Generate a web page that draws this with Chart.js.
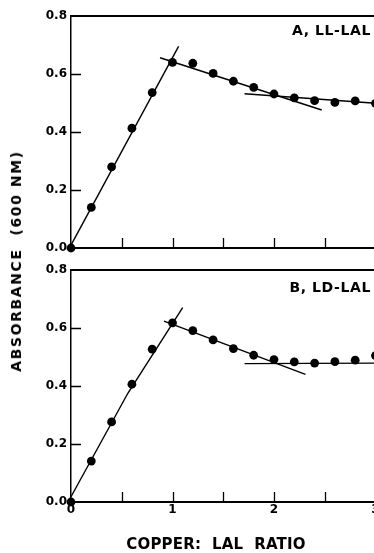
<!DOCTYPE html>
<html>
<head>
<meta charset="utf-8">
<script src="https://cdn.jsdelivr.net/npm/chart.js@4.4.1/dist/chart.umd.min.js"></script>
<style>
  html, body { margin: 0; padding: 0; background: #fff; overflow: hidden; width: 374px; height: 553px; }
  #wrap { position: relative; width: 374px; height: 553px; overflow: hidden; }
  canvas { position: absolute; left: 0; }
  #cA { top: 0; }
  #cB { top: 254px; }
  .lbl { position: absolute; font-family: "DejaVu Sans", sans-serif; font-weight: bold; color: #000; white-space: pre; }
  #ytitle { left: 16px; top: 261px; transform: translate(-50%, -50%) rotate(-90deg); font-size: 14px; letter-spacing: 1.6px; }
  #xtitle { left: 216px; top: 544px; transform: translate(-50%, -50%); font-size: 15px; letter-spacing: 0.2px; }
  #tA { right: 3px; top: 22px; font-size: 14px; letter-spacing: 0.6px; }
  #tB { right: 3px; top: 279px; font-size: 14px; letter-spacing: 0.6px; }
</style>
</head>
<body>
<div id="wrap">
  <canvas id="cA" width="400" height="260"></canvas>
  <canvas id="cB" width="400" height="299"></canvas>
  <div class="lbl" id="ytitle">ABSORBANCE  (600 NM)</div>
  <div class="lbl" id="xtitle">COPPER:  LAL  RATIO</div>
  <div class="lbl" id="tA">A, LL-LAL</div>
  <div class="lbl" id="tB">B, LD-LAL</div>
</div>
<script>
// ---- data ----
const ratios = [0, 0.2, 0.4, 0.6, 0.8, 1.0, 1.2, 1.4, 1.6, 1.8, 2.0, 2.2, 2.4, 2.6, 2.8, 3.0];
const absA = [0.0, 0.14, 0.28, 0.413, 0.536, 0.64, 0.637, 0.602, 0.575, 0.554, 0.531, 0.518, 0.508, 0.502, 0.507, 0.499];
const absB = [0.0, 0.141, 0.276, 0.406, 0.527, 0.618, 0.591, 0.559, 0.529, 0.506, 0.491, 0.483, 0.479, 0.484, 0.489, 0.505];

// fitted lines (x, y pairs)
const lineA1x = [0, 1.06];   const lineA1y = [0.01, 0.695];
const lineA2x = [0.877, 2.47]; const lineA2y = [0.656, 0.476];
const lineA3x = [1.71, 3.0]; const lineA3y = [0.532, 0.499];
const lineB1x = [0, 0.56, 1.1]; const lineB1y = [0.018, 0.375, 0.67];
const lineB2x = [0.916, 2.31]; const lineB2y = [0.624, 0.44];
const lineB3x = [1.71, 3.0]; const lineB3y = [0.477, 0.479];

const xTickMarks = [0.5, 1, 1.5, 2, 2.5];
const yTickMarks = [0.2, 0.4, 0.6];
const xLabels = [0, 1, 2, 3];

const FONT = '"DejaVu Sans", sans-serif';
const zip = (xs, ys) => xs.map((x, i) => ({x, y: ys[i]}));

const framePlugin = {
  id: 'frame',
  afterDraw(chart) {
    const {ctx, chartArea, scales} = chart;
    const xs = scales.x, ys = scales.y;
    ctx.save();
    ctx.strokeStyle = '#000';
    ctx.lineWidth = 1.3;
    ctx.beginPath();
    xTickMarks.forEach(v => {
      const px = Math.round(xs.getPixelForValue(v)) + 0.5;
      ctx.moveTo(px, chartArea.bottom);
      ctx.lineTo(px, chartArea.bottom - 10);
    });
    yTickMarks.forEach(v => {
      const py = Math.round(ys.getPixelForValue(v)) + 0.5;
      ctx.moveTo(chartArea.left, py);
      ctx.lineTo(chartArea.left + 10, py);
    });
    ctx.stroke();
    ctx.lineWidth = 2;
    ctx.beginPath();
    const ty = ys.getPixelForValue(0.8);
    ctx.moveTo(chartArea.left, ty);
    ctx.lineTo(chart.width, ty);
    ctx.stroke();
    ctx.restore();
  }
};

function makeChart(id, pts, lines, showXLabels, xAxisHeight) {
  const datasets = lines.map(([lx, ly]) => ({
    data: zip(lx, ly), showLine: true, borderColor: '#000', borderWidth: 1.4,
    pointRadius: 0, fill: false, clip: false, order: 2
  }));
  datasets.push({
    data: zip(ratios, pts), showLine: false, pointRadius: 4.4,
    pointBackgroundColor: '#000', pointBorderColor: '#000', pointBorderWidth: 0,
    clip: false, order: 1
  });
  return new Chart(document.getElementById(id), {
    type: 'scatter',
    data: { datasets },
    plugins: [framePlugin],
    options: {
      responsive: false,
      devicePixelRatio: 1,
      animation: false,
      layout: { padding: { top: 16, right: 24.5, left: 0, bottom: 0 } },
      plugins: { legend: { display: false }, tooltip: { enabled: false } },
      scales: {
        x: {
          type: 'linear', min: 0, max: 3,
          afterFit(s) { s.height = xAxisHeight; },
          afterBuildTicks(s) { s.ticks = xLabels.map(v => ({value: v})); },
          grid: { display: false, drawTicks: false },
          border: { display: true, color: '#000', width: 2 },
          ticks: {
            display: showXLabels, padding: 1, color: '#000',
            font: { family: FONT, weight: 'bold', size: 12 },
            callback: v => String(v)
          }
        },
        y: {
          type: 'linear', min: 0, max: 0.8,
          afterFit(s) { s.width = 71; },
          grid: { display: false, drawTicks: false },
          border: { display: true, color: '#000', width: 1.5 },
          ticks: {
            stepSize: 0.2, padding: 4, color: '#000',
            font: { family: FONT, weight: 'bold', size: 12 },
            callback: v => Number(v).toFixed(1)
          }
        }
      }
    }
  });
}

makeChart('cA', absA, [[lineA1x, lineA1y], [lineA2x, lineA2y], [lineA3x, lineA3y]], false, 12);
makeChart('cB', absB, [[lineB1x, lineB1y], [lineB2x, lineB2y], [lineB3x, lineB3y]], true, 51);
</script>
</body>
</html>
